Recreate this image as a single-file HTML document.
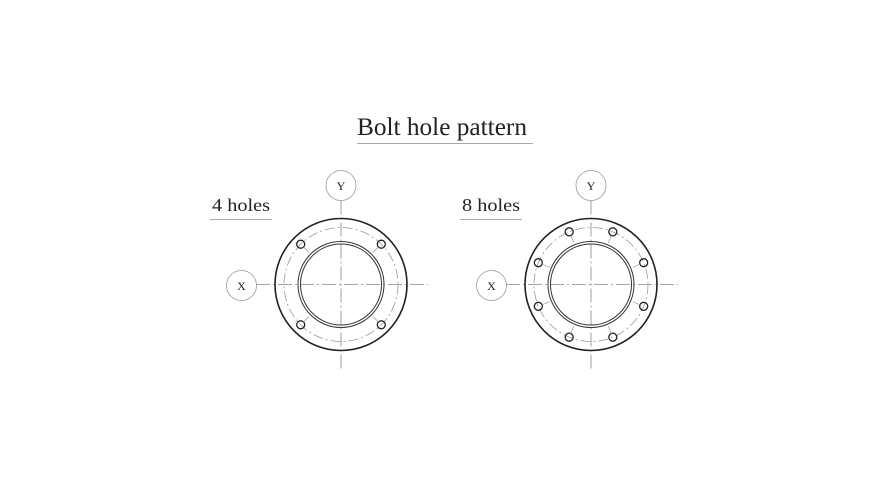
<!DOCTYPE html>
<html><head><meta charset="utf-8"><style>
html,body{margin:0;padding:0;background:#fff;}
svg{display:block;}
text{font-family:"Liberation Serif",serif;fill:#222;}
</style></head><body>
<svg width="888" height="486" viewBox="0 0 888 486" xmlns="http://www.w3.org/2000/svg">
<text x="357" y="135" font-size="25" textLength="170" lengthAdjust="spacingAndGlyphs">Bolt hole pattern</text>
<line x1="357" y1="143.5" x2="533" y2="143.5" stroke="#aaa" stroke-width="1"/>
<text x="212" y="211" font-size="18" textLength="58" lengthAdjust="spacingAndGlyphs">4 holes</text>
<line x1="210" y1="219.5" x2="272" y2="219.5" stroke="#aaa" stroke-width="1"/>
<text x="462" y="211" font-size="18" textLength="58" lengthAdjust="spacingAndGlyphs">8 holes</text>
<line x1="460" y1="219.5" x2="522" y2="219.5" stroke="#aaa" stroke-width="1"/>

<g transform="translate(341,284.5)">
  <line x1="-85" y1="0" x2="87" y2="0" stroke="#888" stroke-width="0.8" stroke-dasharray="14,3,2,3"/>
  <line x1="0" y1="-84" x2="0" y2="84" stroke="#888" stroke-width="0.8" stroke-dasharray="14,3,2,3"/>
  <circle r="66" fill="none" stroke="#222" stroke-width="1.6"/>
  <circle r="57" fill="none" stroke="#999" stroke-width="0.8" stroke-dasharray="10,3,2,3"/>
  <circle r="43" fill="none" stroke="#333" stroke-width="1"/>
  <circle r="40.5" fill="none" stroke="#333" stroke-width="1"/>
  <circle cx="0" cy="-99" r="15" fill="#fff" stroke="#999" stroke-width="0.8"/>
  <text x="0" y="-94.5" font-size="12" text-anchor="middle">Y</text>
  <circle cx="-99.5" cy="1" r="15" fill="#fff" stroke="#999" stroke-width="0.8"/>
  <text x="-99.5" y="5.5" font-size="12" text-anchor="middle">X</text>
  <g stroke="#222" stroke-width="1.3" fill="none">
    <g transform="rotate(45)"><circle cx="0" cy="-57" r="4"/><line x1="0" y1="-53" x2="0" y2="-45" stroke="#999" stroke-width="0.7"/></g>
    <g transform="rotate(135)"><circle cx="0" cy="-57" r="4"/><line x1="0" y1="-53" x2="0" y2="-45" stroke="#999" stroke-width="0.7"/></g>
    <g transform="rotate(225)"><circle cx="0" cy="-57" r="4"/><line x1="0" y1="-53" x2="0" y2="-45" stroke="#999" stroke-width="0.7"/></g>
    <g transform="rotate(315)"><circle cx="0" cy="-57" r="4"/><line x1="0" y1="-53" x2="0" y2="-45" stroke="#999" stroke-width="0.7"/></g>
  </g>
</g>

<g transform="translate(591,284.5)">
  <line x1="-85" y1="0" x2="87" y2="0" stroke="#888" stroke-width="0.8" stroke-dasharray="14,3,2,3"/>
  <line x1="0" y1="-84" x2="0" y2="84" stroke="#888" stroke-width="0.8" stroke-dasharray="14,3,2,3"/>
  <circle r="66" fill="none" stroke="#222" stroke-width="1.6"/>
  <circle r="57" fill="none" stroke="#999" stroke-width="0.8" stroke-dasharray="10,3,2,3"/>
  <circle r="43" fill="none" stroke="#333" stroke-width="1"/>
  <circle r="40.5" fill="none" stroke="#333" stroke-width="1"/>
  <circle cx="0" cy="-99" r="15" fill="#fff" stroke="#999" stroke-width="0.8"/>
  <text x="0" y="-94.5" font-size="12" text-anchor="middle">Y</text>
  <circle cx="-99.5" cy="1" r="15" fill="#fff" stroke="#999" stroke-width="0.8"/>
  <text x="-99.5" y="5.5" font-size="12" text-anchor="middle">X</text>
  <g stroke="#222" stroke-width="1.3" fill="none">
    <g transform="rotate(22.5)"><circle cx="0" cy="-57" r="4"/><line x1="0" y1="-53" x2="0" y2="-45" stroke="#999" stroke-width="0.7"/></g>
    <g transform="rotate(67.5)"><circle cx="0" cy="-57" r="4"/><line x1="0" y1="-53" x2="0" y2="-45" stroke="#999" stroke-width="0.7"/></g>
    <g transform="rotate(112.5)"><circle cx="0" cy="-57" r="4"/><line x1="0" y1="-53" x2="0" y2="-45" stroke="#999" stroke-width="0.7"/></g>
    <g transform="rotate(157.5)"><circle cx="0" cy="-57" r="4"/><line x1="0" y1="-53" x2="0" y2="-45" stroke="#999" stroke-width="0.7"/></g>
    <g transform="rotate(202.5)"><circle cx="0" cy="-57" r="4"/><line x1="0" y1="-53" x2="0" y2="-45" stroke="#999" stroke-width="0.7"/></g>
    <g transform="rotate(247.5)"><circle cx="0" cy="-57" r="4"/><line x1="0" y1="-53" x2="0" y2="-45" stroke="#999" stroke-width="0.7"/></g>
    <g transform="rotate(292.5)"><circle cx="0" cy="-57" r="4"/><line x1="0" y1="-53" x2="0" y2="-45" stroke="#999" stroke-width="0.7"/></g>
    <g transform="rotate(337.5)"><circle cx="0" cy="-57" r="4"/><line x1="0" y1="-53" x2="0" y2="-45" stroke="#999" stroke-width="0.7"/></g>
  </g>
</g>
</svg>
</body></html>
